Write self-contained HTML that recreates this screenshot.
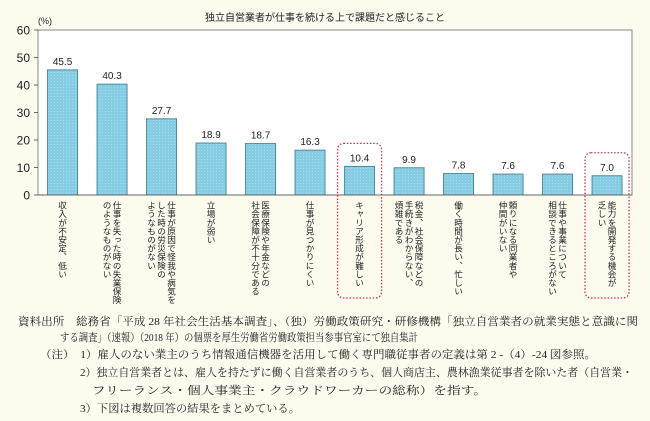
<!DOCTYPE html>
<html><head><meta charset="utf-8">
<style>
body{margin:0;width:650px;height:421px;background:#fdfbee;font-family:"Liberation Sans","Noto Sans CJK JP",sans-serif;overflow:hidden;position:relative}
svg{position:absolute;left:0;top:0}
.foot{position:absolute;font-family:"Liberation Serif","Noto Serif CJK SC",serif;font-size:11px;color:#222;white-space:nowrap;line-height:14px;transform-origin:0 0;display:inline-block}
.lbl{position:absolute;top:201px;writing-mode:vertical-rl;font-size:8.6px;line-height:10px;color:#222;white-space:nowrap}
</style></head><body>
<svg id="chart" width="650" height="421"></svg>
<div class="foot" data-w="620" style="left:18px;top:315px">資料出所　総務省「平成 28 年社会生活基本調査」、（独）労働政策研究・研修機構「独立自営業者の就業実態と意識に関</div>
<div class="foot" data-w="358" style="left:60px;top:331px">する調査」（速報）（2018 年）の個票を厚生労働省労働政策担当参事官室にて独自集計</div>
<div class="foot" data-w="556" style="left:40px;top:348px">（注）　1）雇人のない業主のうち情報通信機器を活用して働く専門職従事者の定義は第 2 -（4）-24 図参照。</div>
<div class="foot" data-w="553" style="left:80px;top:366px">2）独立自営業者とは、雇人を持たずに働く自営業者のうち、個人商店主、農林漁業従事者を除いた者（自営業・</div>
<div class="foot" data-w="395" style="left:92px;top:384px">フリーランス・個人事業主・クラウドワーカーの総称）を指す。</div>
<div class="foot" data-w="220" style="left:80px;top:402px">3）下図は複数回答の結果をまとめている。</div>
<div id="labels"></div>
<script>
const categories=["収入が不安定、低い","仕事を失った時の失業保険\nのようなものがない","仕事が原因で怪我や病気を\nした時の労災保険の\nようなものがない","立場が弱い","医療保険や年金などの\n社会保障が不十分である","仕事が見つかりにくい","キャリア形成が難しい","税金、社会保障などの\n手続きがわからない、\n煩雑である","働く時間が長い、忙しい","頼りになる同業者や\n仲間がいない","仕事や事業について\n相談できるところがない","能力を開発する機会が\n乏しい"];
const values=[45.5,40.3,27.7,18.9,18.7,16.3,10.4,9.9,7.8,7.6,7.6,7.0];
const valueLabels=["45.5","40.3","27.7","18.9","18.7","16.3","10.4","9.9","7.8","7.6","7.6","7.0"];
const ticks=[0,10,20,30,40,50,60];
const highlighted=[6,11];
const X0=38,X1=632,Y0=195,Y1=30,YMAX=60;
const y=v=>Y0-(v/YMAX)*(Y0-Y1);
const band=(X1-X0)/categories.length;
const xc=i=>X0+band*(i+0.5)-0.2;
const NS="http://www.w3.org/2000/svg";
const svg=document.getElementById('chart');
function mk(t,a){const e=document.createElementNS(NS,t);for(const k in a)e.setAttribute(k,a[k]);svg.appendChild(e);return e;}
let e=mk('rect',{x:X0,y:Y1,width:X1-X0,height:Y0-Y1,fill:'#fff',stroke:'#888','stroke-width':1});

e=mk('text',{x:325,y:21,'font-size':10,'text-anchor':'middle',fill:'#222'});e.textContent='独立自営業者が仕事を続ける上で課題だと感じること';

e=mk('text',{x:38,y:24,'font-size':9,fill:'#222'});e.textContent='(%)';

ticks.forEach(t=>{
 const l=mk('line',{x1:X0-4,x2:X0,y1:y(t),y2:y(t),stroke:'#666'});
 
 const tx=mk('text',{x:X0-8,y:y(t)+4.5,'font-size':12,'text-anchor':'end',fill:'#222'});tx.textContent=t;
 
});
const defs=mk('defs',{});
defs.innerHTML='<pattern id="hatch" width="3" height="3" patternUnits="userSpaceOnUse"><rect width="3" height="3" fill="#86cde3"/><rect width="1" height="1" fill="#a8dcec"/></pattern>';
const bw=30;
values.forEach((v,i)=>{
 const r=mk('rect',{x:xc(i)-bw/2,y:y(v),width:bw,height:Y0-y(v),fill:'url(#hatch)',stroke:'#4d8a9e','stroke-width':1});
 
 const t=mk('text',{x:xc(i),y:y(v)-5,'font-size':10,'text-anchor':'middle',fill:'#222'});t.textContent=valueLabels[i];
 
});
mk('line',{x1:X0,x2:X1,y1:Y0,y2:Y0,stroke:'#666','stroke-width':1});
highlighted.forEach(i=>{
 const h=mk('rect',{x:xc(i)-22,y:y(values[i])-23,width:44,height:298-(y(values[i])-23),rx:6,fill:'none',stroke:'#c8334f','stroke-width':1.3,'stroke-dasharray':'1.5 1.8'});
 
});
const lab=document.getElementById('labels');
categories.forEach((c,i)=>{
 const d=document.createElement('div');d.className='lbl';
 const n=c.split('\n').length;
 d.style.left=(xc(i)-n*10/2)+'px';
 d.innerHTML=c.split('\n').join('<br>');
 
 
 lab.appendChild(d);
});
document.querySelectorAll('.foot').forEach(f=>{
 const w=f.getBoundingClientRect().width;
 f.style.transform='scaleX('+(parseFloat(f.dataset.w)/w)+')';
});
</script>
</body></html>
